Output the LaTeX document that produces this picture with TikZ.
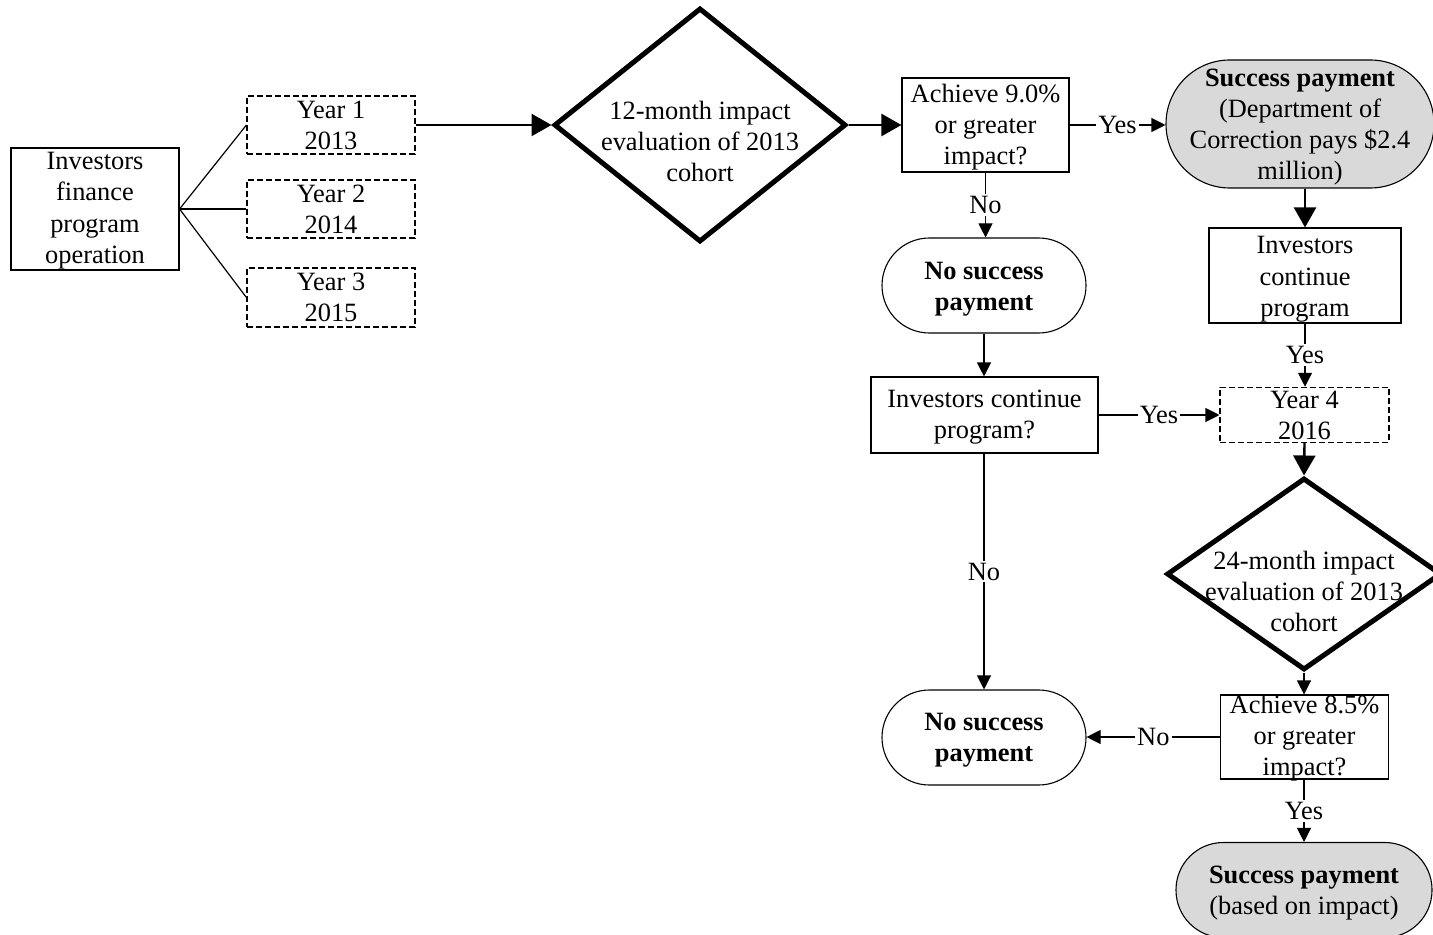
\documentclass[tikz,border=0pt]{standalone}
\usepackage{fontspec}
\setmainfont{Liberation Serif}
\usetikzlibrary{arrows.meta,shapes.geometric}
\newcommand\lstrut{\rule[-4.6pt]{0pt}{15.6pt}}
\begin{document}
\begin{tikzpicture}[x=0.5pt,y=-0.5pt,
  font=\fontsize{13.2pt}{15.6pt}\selectfont,
  shp/.style={draw, inner sep=0pt, line width=0.55pt},
  dbox/.style={shp, dash pattern=on 3pt off 1.5pt},
  stad/.style={shp, rounded corners=#1},
  gstad/.style={stad=#1, fill=gray!30},
  dia/.style={draw, diamond, inner sep=0pt, line width=2.5pt},
  txt/.style={align=center, inner sep=0pt, yshift=-2pt,
    execute at begin node=\lstrut, execute at end node=\lstrut},
  btxt/.style={txt, font=\fontsize{13.2pt}{15.6pt}\selectfont\bfseries},
  tarr/.style={line width=0.55pt, -{Triangle[length=7pt,width=7pt]}},
  karr/.style={line width=1.2pt, -{Triangle[length=10pt,width=11pt]}},
  plain/.style={line width=0.6pt},
  lab/.style={fill=white, inner sep=1pt}]
\useasboundingbox (0,0) rectangle (1433,935);

% left part
\node[shp, minimum width=84pt, minimum height=61pt] (inv) at (95,209) {};
\node[txt] (invt) at (95,208.5) {Investors\\finance\\program\\operation};
\node[dbox, minimum width=84pt, minimum height=29pt] (y1) at (331,125) {};
\node[txt] (y1t) at (331,125.5) {Year 1\\2013};
\node[dbox, minimum width=84pt, minimum height=29pt] (y2) at (331,209) {};
\node[txt] (y2t) at (331,209.5) {Year 2\\2014};
\node[dbox, minimum width=84pt, minimum height=29.5pt] (y3) at (331,297.5) {};
\node[txt] (y3t) at (331,298) {Year 3\\2015};

\node[dia, minimum width=146pt, minimum height=117pt] (d1) at (700,125) {};
\node[txt] (d1t) at (700,142) {12-month impact\\evaluation of 2013\\cohort};

% middle column
\node[shp, minimum width=83.5pt, minimum height=47pt] (a1) at (985.5,125) {};
\node[txt] (a1t) at (985.5,125) {Achieve 9.0\%\\or greater\\impact?};
\node[stad=23.7pt, minimum width=102pt, minimum height=47.5pt] (ns1) at (984,285.5) {};
\node[btxt] (ns1t) at (984,287) {No success\\payment};
\node[shp, minimum width=113.5pt, minimum height=38pt] (icq) at (984.5,415) {};
\node[txt] (icqt) at (984.5,415) {Investors continue\\program?};
\node[stad=23.7pt, minimum width=102pt, minimum height=47.5pt] (ns2) at (984,737.5) {};
\node[btxt] (ns2t) at (984,738) {No success\\payment};

% right column
\node[gstad=31.9pt, minimum width=134pt, minimum height=64pt] (sp1) at (1300,124) {};
\node[txt] (sp1t) at (1300,125) {\textbf{Success payment}\\(Department of\\Correction pays \$2.4\\million)};
\node[shp, minimum width=96pt, minimum height=47.5pt] (ic) at (1305,275.5) {};
\node[txt] (ict) at (1305,277) {Investors\\continue\\program};
\node[dbox, minimum width=84.5pt, minimum height=27.5pt] (y4) at (1304.5,414.8) {};
\node[txt] (y4t) at (1304.5,416) {Year 4\\2016};
\node[dia, minimum width=137.3pt, minimum height=96pt] (d2) at (1304,574) {};
\node[txt] (d2t) at (1304,592) {24-month impact\\evaluation of 2013\\cohort};
\node[shp, minimum width=83.8pt, minimum height=42pt] (a2) at (1304.5,737) {};
\node[txt] (a2t) at (1304.5,736) {Achieve 8.5\%\\or greater\\impact?};
\node[gstad=23.6pt, minimum width=128pt, minimum height=47.5pt] (sp2) at (1304,890) {};
\node[txt] (sp2t) at (1304,890.5) {\textbf{Success payment}\\(based on impact)};

% connectors
\draw[plain] (inv.east) -- (y1.west);
\draw[plain] (inv.east) -- (y2.west);
\draw[plain] (inv.east) -- (y3.west);
\draw[karr] (y1.east) -- (d1.west);
\draw[karr] (d1.east) -- (a1.west);
\draw[tarr] (a1.east) -- node[lab] (l1) {Yes} (a1.east -| sp1.west);
\draw[tarr] (a1.south) -- node[lab] (l2) {No} (a1.south |- ns1.north);
\draw[karr] (ic.north |- sp1.south) -- (ic.north);
\draw[tarr] (ic.south) -- node[lab] (l3) {Yes} (ic.south |- y4.north);
\draw[karr] (y4.south) -- (d2.north);
\draw[tarr] (d2.south) -- (d2.south |- a2.north);
\draw[tarr] (a2.west) -- node[lab] (l4) {No} (a2.west -| ns2.east);
\draw[tarr] (sp2.north |- a2.south) -- node[lab] (l5) {Yes} (sp2.north);
\draw[tarr] (ns1.south) -- (ns1.south |- icq.north);
\draw[tarr] (icq.east) -- node[lab] (l6) {Yes} (icq.east -| y4.west);
\draw[tarr] (ns2.north |- icq.south) -- node[lab] (l7) {No} (ns2.north);
\end{tikzpicture}
\end{document}
